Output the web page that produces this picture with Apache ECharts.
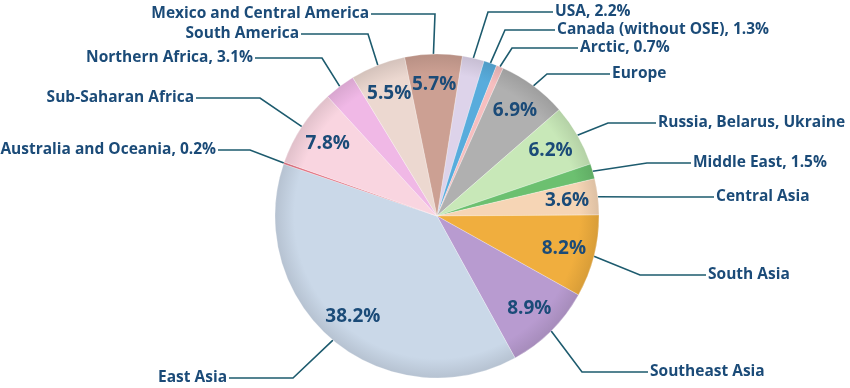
<!DOCTYPE html>
<html>
<head>
<meta charset="utf-8">
<script src="https://cdn.jsdelivr.net/npm/echarts@6/dist/echarts.min.js"></script>
<style>
html,body{margin:0;padding:0;background:#fff;}
#chart{width:850px;height:388px;}
</style>
</head>
<body>
<div id="chart"></div>
<script>
// ---- data ----
const regions = ['USA', 'Canada (without OSE)', 'Arctic', 'Europe', 'Russia, Belarus, Ukraine',
  'Middle East', 'Central Asia', 'South Asia', 'Southeast Asia', 'East Asia',
  'Australia and Oceania', 'Sub-Saharan Africa', 'Northern Africa', 'South America',
  'Mexico and Central America'];
const shares = [2.2, 1.3, 0.7, 6.9, 6.2, 1.5, 3.6, 8.2, 8.9, 38.2, 0.2, 7.8, 3.1, 5.5, 5.7];
// true: percentage is written next to the name outside; false: percentage is inside the slice
const pctOutside = [true, true, true, false, false, true, false, false, false, false, true, false, true, false, false];

// ---- styles ----
const colors = ['#ddd3ea', '#58acdc', '#f6bfc0', '#b0b0b0', '#c8e8b8', '#6cc070', '#f6d5b5',
  '#f0ae3e', '#b89bd0', '#cad8e8', '#e07080', '#f9d5e0', '#f0b8e6', '#ecd8d0', '#cca093'];
// label layout: [text x, text y, elbow x, align]
const labelPos = [
  [555, 12, 488, 'left'], [557, 30, 505, 'left'], [580, 48, 512, 'left'], [612, 74, 547, 'left'],
  [658, 123, 608, 'left'], [693, 163, 647, 'left'], [716, 197, 647, 'left'], [708, 275, 640, 'left'],
  [650, 372, 582, 'left'], [227, 378, 293, 'right'], [216, 150, 250, 'right'], [194, 98, 260, 'right'],
  [253, 58, 322, 'right'], [299, 34, 368, 'right'], [369, 14, 435, 'right']
];
const CX = 437, CY = 216, R = 162;
const textColor = '#1b4b78';
const lineColor = '#1d5b6e';

function shade(hex, f) {
  const n = parseInt(hex.slice(1), 16);
  let r = (n >> 16) & 255, g = (n >> 8) & 255, b = n & 255;
  r = Math.round(r * f); g = Math.round(g * f); b = Math.round(b * f);
  return 'rgb(' + r + ',' + g + ',' + b + ')';
}

const pieData = regions.map((name, i) => ({
  name: name,
  value: shares[i],
  itemStyle: {
    color: {
      type: 'radial', x: CX, y: CY, r: R, global: true,
      colorStops: [
        { offset: 0, color: colors[i] },
        { offset: 0.88, color: colors[i] },
        { offset: 1, color: shade(colors[i], 0.9) }
      ]
    }
  }
}));

const innerData = regions.map((name, i) => ({ name: name, value: shares[i] }));

const chart = echarts.init(document.getElementById('chart'));
chart.setOption({
  animation: false,
  backgroundColor: '#ffffff',
  series: [
    {
      type: 'pie',
      center: [CX, CY],
      radius: [0, R],
      startAngle: 81,
      clockwise: true,
      avoidLabelOverlap: false,
      data: pieData,
      itemStyle: { borderColor: 'rgba(255,255,255,0.5)', borderWidth: 0.5 },
      label: {
        show: true,
        position: 'outside',
        color: textColor,
        fontFamily: 'Open Sans',
        fontWeight: 'bold',
        fontSize: 15.5,
        formatter: p => pctOutside[p.dataIndex] ? p.name + ', ' + p.value.toFixed(1) + '%' : p.name
      },
      labelLine: {
        show: true,
        length: 20,
        length2: 20,
        smooth: false,
        lineStyle: { color: lineColor, width: 1.6 }
      },
      labelLayout: function (params) {
        const lp = labelPos[params.dataIndex];
        const p0 = params.labelLinePoints ? params.labelLinePoints[0] : [CX, CY];
        return {
          x: lp[0],
          y: lp[1],
          align: lp[3],
          verticalAlign: 'middle',
          labelLinePoints: [p0, [lp[2], lp[1]], [lp[3] === 'left' ? lp[0] - 2 : lp[0] + 2, lp[1]]]
        };
      },
      emphasis: { disabled: true }
    },
    {
      type: 'pie',
      center: [CX, CY],
      radius: [94, R],
      startAngle: 81,
      clockwise: true,
      silent: true,
      data: innerData,
      itemStyle: { color: 'rgba(0,0,0,0)' },
      label: {
        show: true,
        position: 'inside',
        color: textColor,
        fontFamily: 'Open Sans',
        fontWeight: 'bold',
        fontSize: 19,
        formatter: p => pctOutside[p.dataIndex] ? '' : p.value.toFixed(1) + '%'
      },
      labelLine: { show: false },
      emphasis: { disabled: true }
    }
  ]
});
</script>
</body>
</html>
